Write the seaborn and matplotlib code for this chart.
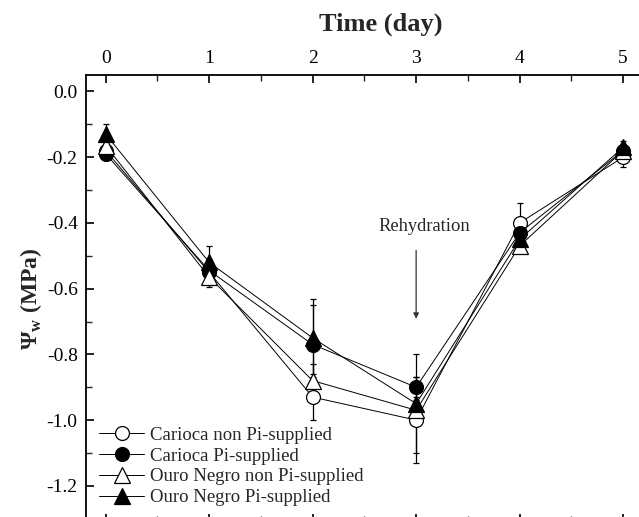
import numpy as np
import pandas as pd
import matplotlib
matplotlib.use("Agg")
import matplotlib.pyplot as plt
from matplotlib.ticker import MultipleLocator
import seaborn as sns

days = [0, 1, 2, 3, 4, 5]
series_names = ["Carioca non Pi-supplied", "Carioca Pi-supplied",
                "Ouro Negro non Pi-supplied", "Ouro Negro Pi-supplied"]
carioca_non = [-0.18, -0.55, -0.93, -1.00, -0.40, -0.20]
carioca_pi = [-0.19, -0.545, -0.77, -0.90, -0.43, -0.18]
ouro_non = [-0.165, -0.565, -0.88, -0.97, -0.47, -0.18]
ouro_pi = [-0.13, -0.52, -0.75, -0.95, -0.45, -0.17]
err_carioca_non = [0.02, 0.04, 0.07, 0.13, 0.06, 0.03]
err_carioca_pi = [0.02, 0.03, 0.12, 0.03, 0.04, 0.02]
err_ouro_non = [0.02, 0.03, 0.05, 0.03, 0.02, 0.02]
err_ouro_pi = [0.03, 0.05, 0.12, 0.15, 0.03, 0.02]
x_ticks = [0, 1, 2, 3, 4, 5]
y_ticks = [0.0, -0.2, -0.4, -0.6, -0.8, -1.0, -1.2]

values = [carioca_non, carioca_pi, ouro_non, ouro_pi]
errors = [err_carioca_non, err_carioca_pi, err_ouro_non, err_ouro_pi]
markers = ["o", "o", "^", "^"]
faces = ["white", "black", "white", "black"]

sns.set_theme(style="white")
plt.rcParams["font.family"] = ["Liberation Serif", "DejaVu Serif"]
plt.rcParams["mathtext.fontset"] = "custom"
plt.rcParams["mathtext.rm"] = "Liberation Serif"
plt.rcParams["mathtext.bf"] = "Liberation Serif:bold"

fig = plt.figure(figsize=(6.39, 5.17), dpi=100)
ax = fig.add_axes([86/639, -5/517, 563/639, 447/517])

for name, vals, errs, mk, fc in zip(series_names, values, errors, markers, faces):
    df = pd.DataFrame({"day": days, "psi": vals})
    ax.errorbar(days, vals, yerr=errs, fmt="none", ecolor="black",
                elinewidth=0.9, capsize=2.5, capthick=0.9, zorder=2)
    sns.lineplot(data=df, x="day", y="psi", ax=ax, color="black", linewidth=0.7,
                 marker=mk, markersize=10 if mk == "o" else 11,
                 markerfacecolor=fc, markeredgecolor="black", markeredgewidth=0.9,
                 label=name, zorder=3)

ax.set_xlim(-0.19, 5.25)
ax.set_ylim(-1.31, 0.05)
ax.xaxis.set_ticks_position("both")
ax.xaxis.set_label_position("top")
ax.tick_params(axis="x", which="both", top=True, bottom=True, labeltop=True,
               labelbottom=False, direction="in")
ax.tick_params(axis="y", which="both", left=True, right=False, direction="in")
ax.tick_params(which="major", length=6, width=1.2, labelsize=14, colors="black", pad=6)
ax.tick_params(which="minor", length=4, width=1.0)
ax.set_xticks(x_ticks)
ax.set_yticks(y_ticks)
ax.set_yticklabels([f"{v:.1f}" for v in y_ticks])
ax.xaxis.set_minor_locator(MultipleLocator(0.5))
ax.yaxis.set_minor_locator(MultipleLocator(0.1))
for s in ["top", "left", "bottom", "right"]:
    ax.spines[s].set_color("black")
    ax.spines[s].set_linewidth(1.3)

ax.set_xlabel("Time (day)", fontsize=19, fontweight="bold", labelpad=14)
ax.xaxis.label.set_x(0.524)
ax.set_ylabel("Ψ$_{\\mathbf{w}}$ (MPa)", fontsize=17, fontweight="bold", labelpad=2)

ax.annotate("", xy=(3, -0.70), xytext=(3, -0.475),
            arrowprops=dict(arrowstyle="-|>", color="#333333", lw=0.9, mutation_scale=8))
ax.text(3.08, -0.41, "Rehydration", ha="center", va="center", fontsize=13.3)

leg = ax.legend(loc="upper left", bbox_to_anchor=(0.0, 0.243), frameon=False,
                fontsize=13.5, handlelength=2.4, handletextpad=0.3,
                labelspacing=0.2, borderaxespad=0.3)

fig.savefig("out.png", dpi=100)
